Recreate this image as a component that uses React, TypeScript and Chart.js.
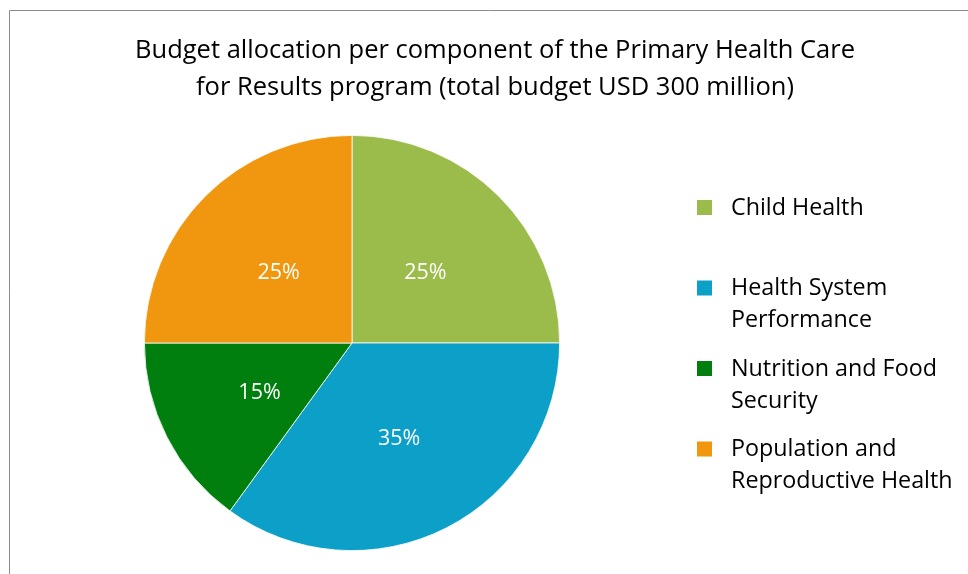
import React, { useEffect, useRef } from "react";
import { Chart, registerables } from "chart.js";

Chart.register(...registerables);

const titleLines = [
  "Budget allocation per component of the Primary Health Care",
  "for Results program (total budget USD 300 million)",
];
const categories = [
  "Child Health",
  "Health System Performance",
  "Nutrition and Food Security",
  "Population and Reproductive Health",
];
const shares = [25, 35, 15, 25];
const colors = ["#9BBB4B", "#0C9FC8", "#007F0F", "#F0960F"];

const FONT = "'Open Sans', Lato, sans-serif";

function wrap(ctx: CanvasRenderingContext2D, text: string, maxW: number): string[] {
  const words = text.split(" ");
  const lines: string[] = [];
  let cur = "";
  for (const w of words) {
    const test = cur ? cur + " " + w : w;
    if (ctx.measureText(test).width > maxW && cur) {
      lines.push(cur);
      cur = w;
    } else cur = test;
  }
  if (cur) lines.push(cur);
  return lines;
}

const decorPlugin = {
  id: "decor",
  afterDraw(chart: any) {
    const ctx: CanvasRenderingContext2D = chart.ctx;
    ctx.save();
    // frame
    ctx.strokeStyle = "#8C8C8C";
    ctx.lineWidth = 1;
    ctx.beginPath();
    ctx.moveTo(9.5, 574);
    ctx.lineTo(9.5, 10.5);
    ctx.lineTo(968, 10.5);
    ctx.stroke();

    // title
    ctx.fillStyle = "#000";
    ctx.font = `25.5px ${FONT}`;
    ctx.textAlign = "center";
    ctx.textBaseline = "middle";
    titleLines.forEach((t, i) => ctx.fillText(t, 495, 51 + i * 37));

    // data labels
    const meta = chart.getDatasetMeta(0);
    const total = shares.reduce((a, b) => a + b, 0);
    ctx.fillStyle = "#fff";
    ctx.font = `21.5px ${FONT}`;
    meta.data.forEach((arc: any, i: number) => {
      const p = arc.tooltipPosition();
      ctx.fillText(Math.round((shares[i] / total) * 100) + "%", p.x, p.y + 3);
    });

    // legend
    ctx.font = `23.3px ${FONT}`;
    ctx.textAlign = "left";
    categories.forEach((c, i) => {
      const y0 = 207 + i * 80.5;
      ctx.fillStyle = colors[i];
      ctx.fillRect(697, y0 - 7, 15, 15);
      ctx.fillStyle = "#000";
      const lines = wrap(ctx, c, 236);
      lines.forEach((l, j) => ctx.fillText(l, 731, y0 + 1 + j * 32));
    });
    ctx.restore();
  },
};

export default function App() {
  const ref = useRef<HTMLCanvasElement>(null);
  useEffect(() => {
    if (!ref.current) return;
    const chart = new Chart(ref.current, {
      type: "pie",
      data: {
        labels: categories,
        datasets: [
          {
            data: shares,
            backgroundColor: colors,
            borderColor: "#ffffff",
            borderWidth: 0.8,
          },
        ],
      },
      options: {
        responsive: false,
        animation: false,
        devicePixelRatio: 1,
        layout: { padding: { left: 144, right: 408, top: 135, bottom: 23 } },
        plugins: {
          legend: { display: false },
          title: { display: false },
          tooltip: { enabled: false },
        },
      },
      plugins: [decorPlugin],
    });
    return () => chart.destroy();
  }, []);
  return (
    <div style={{ position: "fixed", left: 0, top: 0, width: 968, height: 574, background: "#fff" }}>
      <canvas ref={ref} width={968} height={574} />
    </div>
  );
}
